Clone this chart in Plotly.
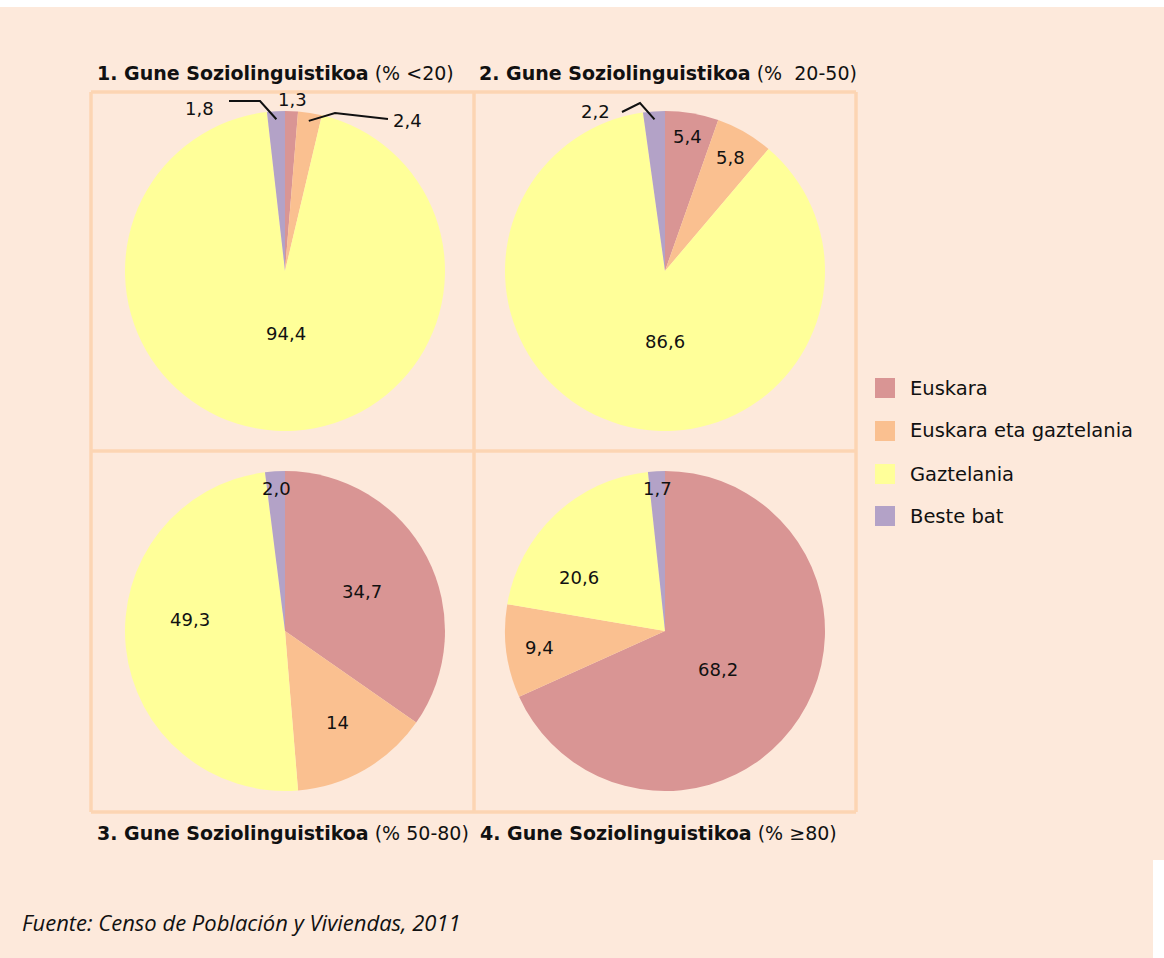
import math
import plotly.graph_objects as go

# Language use by sociolinguistic zone (percent of population)
categories = ["Euskara", "Euskara eta gaztelania", "Gaztelania", "Beste bat"]
zone1 = [1.3, 2.4, 94.4, 1.8]
zone2 = [5.4, 5.8, 86.6, 2.2]
zone3 = [34.7, 14.0, 49.3, 2.0]
zone4 = [68.2, 9.4, 20.6, 1.7]
zone_titles = [
    ("1. Gune Soziolinguistikoa", "(% <20)"),
    ("2. Gune Soziolinguistikoa", "(%  20-50)"),
    ("3. Gune Soziolinguistikoa", "(% 50-80)"),
    ("4. Gune Soziolinguistikoa", "(% ≥80)"),
]
source_note = "Fuente: Censo de Población y Viviendas, 2011"

colors = ["#D99594", "#FAC090", "#FFFF99", "#B3A2C7"]
BG = "#FDE9DB"
FRAME = "#FCD5B3"
FONT = "DejaVu Sans"
INK = "#111111"

W, H = 1164, 958
R = 160  # pie radius in px
centers = [(285, 271), (665, 271), (285, 631), (665, 631)]
zones = [zone1, zone2, zone3, zone4]


def px(x):
    return x / W


def py(y):
    return 1 - y / H


def fmt(v):
    return "14" if v == 14.0 else f"{v:.1f}".replace(".", ",")


def label(x, y, text, size, family=FONT, xanchor="center"):
    return dict(x=px(x), y=py(y), xref="paper", yref="paper", text=text,
                showarrow=False, xanchor=xanchor, yanchor="middle",
                font=dict(family=family, size=size, color=INK))


# label placement: (radial fraction, angle shift in degrees) for inside labels
inside_pos = {
    (0, 0): (1.075, 0), (0, 2): (0.39, -4),
    (1, 0): (0.85, 0), (1, 1): (0.82, 0), (1, 2): (0.44, -16),
    (2, 0): (0.54, 0), (2, 1): (0.66, 0), (2, 2): (0.60, 13), (2, 3): (0.89, 0),
    (3, 0): (0.41, 3), (3, 1): (0.79, 0), (3, 2): (0.63, -15), (3, 3): (0.89, 0),
}
# labels with leader lines: elbow, line end and label centre, relative to pie centre
leader_pos = {
    (0, 3): [(-25, -170), (-56, -170), (-86, -162)],
    (0, 1): [(50, -158), (103, -152), (122, -151)],
    (1, 3): [(-25, -168), (-43, -159), (-70, -159)],
}

fig = go.Figure()
annotations = []
shapes = []

# page background
shapes.append(dict(type="rect", xref="paper", yref="paper", x0=0, x1=1,
                   y0=py(860), y1=py(7), fillcolor=BG, line_width=0, layer="below"))
shapes.append(dict(type="rect", xref="paper", yref="paper", x0=0, x1=px(1153),
                   y0=0, y1=py(860), fillcolor=BG, line_width=0, layer="below"))

# panel frames
fl, fr, ft, fb, fmx, fmy = 91, 856, 92, 812, 474, 451
for (x0, y0, x1, y1) in [(fl, ft, fr, ft), (fl, fb, fr, fb), (fl, ft, fl, fb),
                         (fr, ft, fr, fb), (fmx, ft, fmx, fb), (fl, fmy, fr, fmy)]:
    shapes.append(dict(type="line", xref="paper", yref="paper",
                       x0=px(x0), x1=px(x1), y0=py(y0), y1=py(y1),
                       line=dict(color=FRAME, width=3.5), layer="below"))

for i, (vals, (cx, cy)) in enumerate(zip(zones, centers)):
    fig.add_trace(go.Pie(
        labels=categories, values=vals, sort=False, direction="clockwise",
        rotation=0, marker=dict(colors=colors, line=dict(width=0)),
        textinfo="none", hoverinfo="label+value", showlegend=False,
        domain=dict(x=[px(cx - R), px(cx + R)], y=[py(cy + R), py(cy - R)]),
    ))
    total = sum(vals)
    cum = 0.0
    for j, v in enumerate(vals):
        mid = (cum + v / 2) / total * 360
        cum += v
        key = (i, j)
        if key in inside_pos:
            frac, dth = inside_pos[key]
            a = math.radians(mid + dth)
            annotations.append(label(cx + R * frac * math.sin(a),
                                     cy - R * frac * math.cos(a), fmt(v), 18))
        elif key in leader_pos:
            a = math.radians(mid)
            sx = cx + R * 0.95 * math.sin(a)
            sy = cy - R * 0.95 * math.cos(a)
            (ex, ey), (tx, ty), (lx, ly) = leader_pos[key]
            path = (f"M {px(sx)},{py(sy)} L {px(cx + ex)},{py(cy + ey)} "
                    f"L {px(cx + tx)},{py(cy + ty)}")
            shapes.append(dict(type="path", xref="paper", yref="paper", path=path,
                               line=dict(color=INK, width=2)))
            annotations.append(label(cx + lx, cy + ly, fmt(v), 18))

# panel titles
title_pos = [(95, 73), (477, 73), (95, 833), (478, 833)]
for (bold, rng), (tx, ty) in zip(zone_titles, title_pos):
    annotations.append(label(tx, ty, f"<b>{bold}</b> {rng}", 19, xanchor="left"))

# legend
leg_y = [388, 431, 474, 516]
for name, col, ly in zip(categories, colors, leg_y):
    shapes.append(dict(type="rect", xref="paper", yref="paper",
                       x0=px(875), x1=px(895), y0=py(ly + 10), y1=py(ly - 10),
                       fillcolor=col, line_width=0))
    annotations.append(label(908, ly, name, 19.5, xanchor="left"))

# source note
annotations.append(label(20, 922, f"<i>{source_note}</i>", 22,
                         family="Open Sans", xanchor="left"))

fig.update_layout(
    width=W, height=H, margin=dict(l=0, r=0, t=0, b=0),
    paper_bgcolor="white", plot_bgcolor="white",
    shapes=shapes, annotations=annotations,
)
fig.write_html("out.html")
